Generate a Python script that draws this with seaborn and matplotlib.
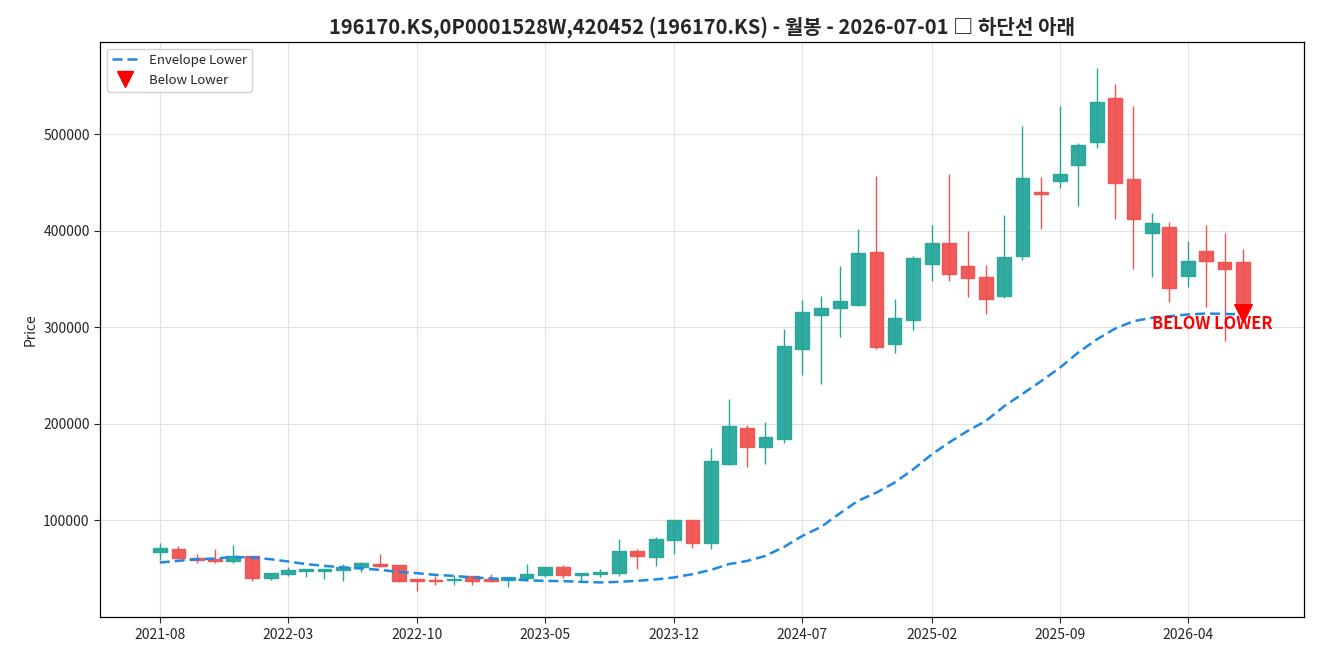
import numpy as np
import pandas as pd
import matplotlib
matplotlib.use("Agg")
import matplotlib.pyplot as plt
import matplotlib.dates as mdates
from matplotlib.lines import Line2D
import seaborn as sns

dates = pd.date_range("2021-08-01", periods=60, freq="MS")
opens = [66900, 71000, 60700, 60000, 57600, 63400, 40000, 44100, 47200, 47200,
         48600, 52000, 54800, 53700, 39300, 38600, 37900, 42100, 39300, 38200,
         40000, 43400, 51400, 43400, 44800, 45500, 68500, 61700, 80300, 100000,
         76200, 158900, 196000, 176400, 184000, 277700, 312900, 320100, 323200, 378000,
         283000, 307700, 365600, 387300, 363100, 352100, 332500, 373400, 440000, 451000,
         467500, 491700, 537200, 453700, 397600, 403800, 352800, 379000, 368000, 368000]
closes = [72000, 60700, 58900, 57600, 63400, 40000, 45200, 48600, 49600, 49600,
          52000, 55500, 53000, 37500, 36900, 36900, 39600, 36900, 37500, 41000,
          44100, 51400, 43400, 45200, 46800, 68500, 63400, 81300, 100000, 77200,
          162000, 198100, 176400, 186800, 280400, 316000, 320100, 327300, 377000, 279800,
          309800, 371400, 387300, 355300, 351100, 329400, 372800, 454500, 438000, 458600,
          488900, 533000, 449300, 411700, 408000, 340400, 368700, 368700, 360400, 324500]
highs = [76500, 73400, 65100, 70300, 74400, 63400, 45800, 51400, 50000, 50000,
         54800, 57200, 65100, 53700, 39300, 42700, 43400, 43000, 44400, 41500,
         54800, 51400, 53700, 45500, 49600, 81300, 71000, 83000, 100000, 100000,
         175400, 225300, 198500, 201900, 298700, 328700, 332100, 363800, 402100, 456100,
         329700, 374200, 406200, 458900, 399300, 364900, 416500, 507800, 455100, 529200,
         491000, 568800, 551900, 529200, 418300, 409000, 389700, 405500, 397200, 381400]
lows = [59200, 60000, 56500, 56500, 56500, 37500, 38200, 43000, 41700, 39300,
        37500, 46800, 51400, 36500, 27200, 33100, 33100, 33100, 35900, 31300,
        37500, 41700, 40300, 36500, 41700, 42100, 50300, 52400, 65800, 72000,
        71000, 157800, 155400, 158900, 180600, 250100, 241600, 289700, 322500, 278000,
        273600, 297000, 347600, 347600, 331100, 314200, 330000, 370000, 402000, 443700,
        425100, 485100, 412400, 360700, 351700, 325900, 341400, 320700, 285600, 324500]
env_lower = [56500, 58200, 59900, 60600, 62300, 61700, 59900, 57600, 54800, 53000,
             51400, 50300, 48900, 46800, 45500, 43700, 42700, 41000, 40000, 39300,
             38200, 37500, 37200, 36500, 35900, 36500, 37500, 39000, 41000, 44400,
             48900, 54800, 58200, 63400, 72700, 84000, 93300, 107200, 120200, 128900,
             139200, 153000, 168500, 180600, 192600, 202900, 218400, 231000, 244200, 258100,
             273600, 287300, 298400, 306300, 309800, 311400, 313200, 314200, 313900, 313200]
signal_date = ["2026-07-01"]
signal_value = [314800]
signal_text = "BELOW LOWER"
title = "196170.KS,0P0001528W,420452 (196170.KS) - 월봉 - 2026-07-01 □ 하단선 아래"

df = pd.DataFrame({"date": dates, "open": opens, "close": closes,
                   "high": highs, "low": lows, "env": env_lower})

sns.set_style("white")
plt.rcParams["font.family"] = ["Noto Sans CJK KR", "DejaVu Sans"]

fig = plt.figure(figsize=(13.2, 6.6), dpi=100)
ax = fig.add_axes([0.0758, 0.065, 0.9122, 0.871])

GREEN = "#26a69a"
RED = "#ef5350"
up = df["close"] >= df["open"]
colors = np.where(up, GREEN, RED)
x = mdates.date2num(df["date"])
ax.vlines(x, df["low"], df["high"], colors=colors, linewidth=1, zorder=2)
bottoms = np.minimum(df["open"], df["close"])
heights = np.abs(df["close"] - df["open"])
heights = np.maximum(heights, 1200)
ax.bar(x, heights, bottom=bottoms, width=23, color=colors, edgecolor=colors,
       linewidth=1, alpha=0.95, zorder=3)

sns.lineplot(data=df, x="date", y="env", ax=ax, color="#1e88e5", linewidth=1.8,
             linestyle=(0, (4, 2)), zorder=4, legend=False)

sdf = pd.DataFrame({"date": pd.to_datetime(signal_date), "v": signal_value})
sns.scatterplot(data=sdf, x="date", y="v", ax=ax, marker="v", color="red", s=160,
                edgecolor="red", zorder=5, legend=False)
ax.annotate(signal_text, xy=(mdates.date2num(sdf["date"][0]), signal_value[0]),
            xytext=(-22, -8), textcoords="offset points", ha="center", va="center",
            color="red", fontsize=11.8, fontweight="bold", zorder=6)

ax.set_xlim(mdates.date2num(pd.Timestamp("2021-04-24")), mdates.date2num(pd.Timestamp("2026-10-11")))
ax.set_ylim(0, 595000)
ax.set_yticks([100000, 200000, 300000, 400000, 500000])
ax.yaxis.set_major_formatter(matplotlib.ticker.FuncFormatter(lambda v, p: f"{int(v)}"))
ticks = pd.date_range("2021-08-01", "2026-04-01", freq="7MS")
ax.set_xticks(mdates.date2num(ticks))
ax.xaxis.set_major_formatter(mdates.DateFormatter("%Y-%m"))
ax.tick_params(axis="both", labelsize=10, direction="out", length=4, width=0.8,
               bottom=True, left=True)
ax.grid(True, color="#dddddd", linewidth=0.8, alpha=0.8)
for s in ax.spines.values():
    s.set_color("black")
    s.set_linewidth(0.9)
ax.set_xlabel("")
ax.set_ylabel("Price", fontsize=10)
ax.set_title(title, fontsize=14.5, fontweight="bold", pad=6)

handles = [Line2D([0], [0], color="#1e88e5", linestyle=(0, (4, 2)), linewidth=1.8),
           Line2D([0], [0], color="red", marker="v", linestyle="none", markersize=11)]
ax.legend(handles, ["Envelope Lower", "Below Lower"], loc="upper left", fontsize=9.5,
          frameon=True, framealpha=0.9, edgecolor="#cccccc")

fig.savefig("out.png", dpi=100)
